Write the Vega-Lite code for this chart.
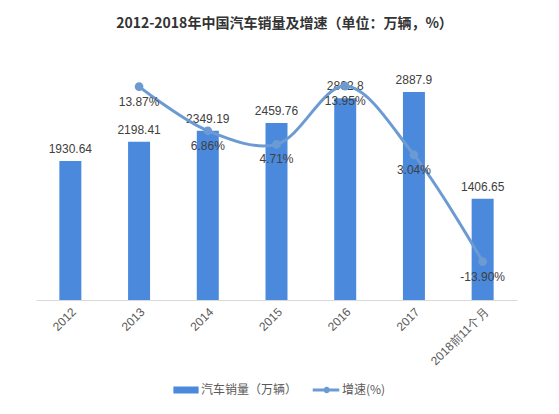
{
  "$schema": "https://vega.github.io/schema/vega-lite/v6.json",
  "autosize": "none",
  "width": 481,
  "height": 252,
  "padding": {"left": 36, "top": 48, "right": 42, "bottom": 114},
  "background": "white",
  "title": {
    "text": "2012-2018年中国汽车销量及增速（单位：万辆，%）",
    "font": "Noto Sans CJK SC",
    "fontSize": 14,
    "fontWeight": "bold",
    "color": "#333333",
    "anchor": "middle",
    "dx": 8,
    "offset": 17
  },
  "config": {
    "view": {"stroke": null},
    "text": {"font": "Liberation Sans", "fontSize": 12, "color": "#404040"}
  },
  "data": {
    "values": [
      {"year": "2012", "sales": 1930.64, "growth": null},
      {"year": "2013", "sales": 2198.41, "growth": 13.87},
      {"year": "2014", "sales": 2349.19, "growth": 6.86},
      {"year": "2015", "sales": 2459.76, "growth": 4.71},
      {"year": "2016", "sales": 2802.8, "growth": 13.95},
      {"year": "2017", "sales": 2887.9, "growth": 3.04},
      {"year": "2018前11个月", "sales": 1406.65, "growth": -13.9}
    ]
  },
  "encoding": {
    "x": {
      "field": "year",
      "type": "nominal",
      "sort": null,
      "scale": {"paddingInner": 0.68, "paddingOuter": 0.34},
      "axis": {
        "title": null,
        "labelAngle": -45,
        "labelAlign": "right",
        "labelBaseline": "top",
        "labelFont": "Liberation Sans",
        "labelFontSize": 12,
        "labelColor": "#595959",
        "labelPadding": 6,
        "ticks": false,
        "domainColor": "#d9d9d9",
        "grid": false
      }
    }
  },
  "layer": [
    {
      "layer": [
        {
          "mark": {"type": "bar"},
          "encoding": {
            "y": {"field": "sales", "type": "quantitative", "scale": {"domain": [0, 3500]}, "axis": null},
            "fill": {
              "datum": "汽车销量（万辆）",
              "type": "nominal",
              "scale": {"range": ["#4a89dc"]},
              "legend": {
                "title": null,
                "orient": "none",
                "legendX": 143,
                "legendY": 335,
                "symbolType": "M-1.8,-0.5H1.8V0.5H-1.8Z",
                "symbolSize": 196,
                "symbolStrokeWidth": 0,
                "labelOffset": 8,
                "labelFont": "Noto Sans CJK SC",
                "labelFontSize": 12,
                "labelColor": "#595959"
              }
            }
          }
        },
        {
          "mark": {"type": "text", "baseline": "bottom", "dy": -5},
          "encoding": {
            "y": {"field": "sales", "type": "quantitative", "scale": {"domain": [0, 3500]}, "axis": null},
            "text": {"field": "sales", "type": "nominal"}
          }
        }
      ]
    },
    {
      "transform": [
        {"filter": "isValid(datum.growth)"},
        {"calculate": "(datum.growth < 0 ? '-' : '') + format(abs(datum.growth), '.2f') + '%'", "as": "growthLabel"}
      ],
      "layer": [
        {
          "mark": {"type": "line", "interpolate": "catmull-rom", "strokeWidth": 3, "point": {"filled": true, "size": 45, "color": "#6b9bd2"}},
          "encoding": {
            "y": {"field": "growth", "type": "quantitative", "scale": {"domain": [-20, 20]}, "axis": null},
            "stroke": {
              "datum": "增速(%)",
              "type": "nominal",
              "scale": {"range": ["#6b9bd2"]},
              "legend": {
                "title": null,
                "orient": "none",
                "legendX": 283,
                "legendY": 335,
                "symbolType": "M-1.9,-0.2H1.9V0.2H-1.9Z M0.55,0A0.45,0.45 0 1,1 -0.35,0A0.45,0.45 0 1,1 0.55,0Z",
                "symbolSize": 196,
                "symbolFillColor": "#6b9bd2",
                "symbolStrokeWidth": 0,
                "labelOffset": 9,
                "labelFont": "Noto Sans CJK SC",
                "labelFontSize": 12,
                "labelColor": "#595959"
              }
            }
          }
        },
        {
          "mark": {"type": "text", "baseline": "top", "dy": 10},
          "encoding": {
            "y": {"field": "growth", "type": "quantitative", "scale": {"domain": [-20, 20]}, "axis": null},
            "text": {"field": "growthLabel", "type": "nominal"}
          }
        }
      ]
    }
  ],
  "resolve": {"scale": {"y": "independent"}}
}
